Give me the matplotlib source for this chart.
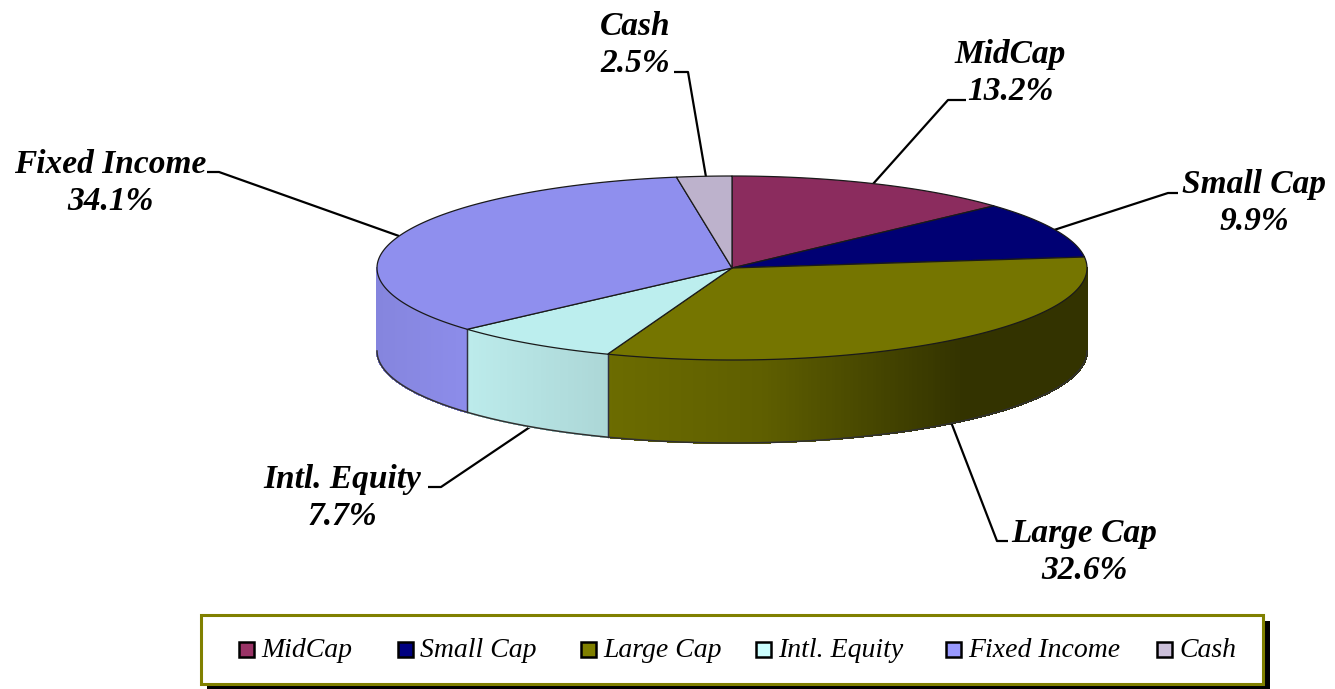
"""Render the asset allocation 3D pie with its leader lines and legend."""

import matplotlib

matplotlib.use("Agg")
import matplotlib.pyplot as plt
import numpy as np
from matplotlib.patches import Rectangle

categories = ["MidCap", "Small Cap", "Large Cap", "Intl. Equity", "Fixed Income", "Cash"]
shares = [13.2, 9.9, 32.6, 7.7, 34.1, 2.5]
legend_colors = ["#993366", "#000080", "#808000", "#CCFFFF", "#9999FF", "#CCC0DA"]
top_colors = ["#8B2C5E", "#000073", "#757500", "#BCEEEE", "#8F8FEE", "#BDB2CC"]

W, H = 1335, 689
CX, CY, RX, RY, DEPTH = 732, 268, 355, 92, 83
SERIF = "Liberation Serif"


def rim(deg):
    # angle is clockwise from 12 o'clock, like the pie's first slice
    a = np.radians(deg)
    return CX + RX * np.sin(a), CY - RY * np.cos(a)


def side_shade(x):
    # light falls from the left, the right of the wall goes nearly dark
    return np.interp(x, [377, 470, 610, 760, 900, 960, 1087],
                     [0.87, 0.92, 0.84, 0.74, 0.50, 0.40, 0.40])


fig = plt.figure(figsize=(W / 100, H / 100), dpi=100)
ax = fig.add_axes([0, 0, 1, 1])
ax.set_xlim(0, W)
ax.set_ylim(H, 0)
ax.axis("off")

edges = np.concatenate([[0], np.cumsum(shares)]) / np.sum(shares) * 360

# Outer wall, only the front half of the rim can be seen.
for i, base in enumerate(legend_colors):
    lo, hi = max(edges[i], 90), min(edges[i + 1], 270)
    if hi <= lo:
        continue
    steps = np.linspace(lo, hi, max(int((hi - lo) * 2), 2))
    for a0, a1 in zip(steps[:-1], steps[1:]):
        x0, y0 = rim(a0)
        x1, y1 = rim(a1)
        rgb = np.array(matplotlib.colors.to_rgb(base)) * side_shade((x0 + x1) / 2)
        # no antialiasing here, blended quad edges show up as stripes
        ax.fill([x0, x1, x1, x0], [y0, y1, y1 + DEPTH, y0 + DEPTH],
                color=rgb, lw=0.8, antialiased=False, zorder=2)
    # seams between slices, the two ends at the extremes stay unlined
    for deg in (lo, hi):
        if 90 < deg < 270:
            xe, ye = rim(deg)
            ax.plot([xe, xe], [ye, ye + DEPTH], color="#303040", lw=0.9, zorder=3)

front = np.linspace(90, 270, 300)
fx, fy = rim(front)
ax.plot(fx, fy + DEPTH, color="#303030", lw=1.1, zorder=3)

# Top face of the pie.
for i, color in enumerate(top_colors):
    arc = np.linspace(edges[i], edges[i + 1], 120)
    ax_, ay_ = rim(arc)
    ax.fill(np.r_[CX, ax_], np.r_[CY, ay_], facecolor=color, edgecolor="#1A1A1A",
            lw=0.9, joinstyle="round", zorder=4)

# Labels and leader lines, one entry per category.
label_xy = [(1010, 73), (1254, 203), (1084, 552), (342, 498), (110, 183), (635, 45)]
leader_paths = [
    [(873, 184), (948, 100), (966, 100)],
    [(1054, 230), (1168, 193), (1178, 193)],
    [(951, 422), (997, 541), (1008, 541)],
    [(530, 427), (441, 487), (428, 487)],
    [(399, 236), (219, 172), (207, 172)],
    [(706, 177), (688, 72), (674, 72)],
]
for name, share, (tx, ty), path in zip(categories, shares, label_xy, leader_paths):
    ax.text(tx, ty, f"{name}\n{share:.1f}%", ha="center", va="center", fontsize=24,
            family=SERIF, style="italic", weight="bold", color="black",
            linespacing=1.24, zorder=6)
    xs, ys = zip(*path)
    ax.plot(xs, ys, color="black", lw=1.6, solid_capstyle="butt", zorder=1)

# Legend box with hard drop shadow.
ax.add_patch(Rectangle((207, 621), 1063, 68, facecolor="black", edgecolor="none", zorder=1))
ax.add_patch(Rectangle((201, 615), 1062, 69, facecolor="white", edgecolor="#808000",
                       lw=2.2, zorder=2))
swatch_x = [239, 398, 581, 756, 946, 1157]
for name, color, sx in zip(categories, legend_colors, swatch_x):
    ax.add_patch(Rectangle((sx, 642), 15, 15, facecolor=color, edgecolor="black",
                           lw=1.8, zorder=3))
    ax.text(sx + 22, 657, name, ha="left", va="baseline", fontsize=20,
            family=SERIF, style="italic", color="black", zorder=3)

fig.savefig("out.png", dpi=100, facecolor="white")
